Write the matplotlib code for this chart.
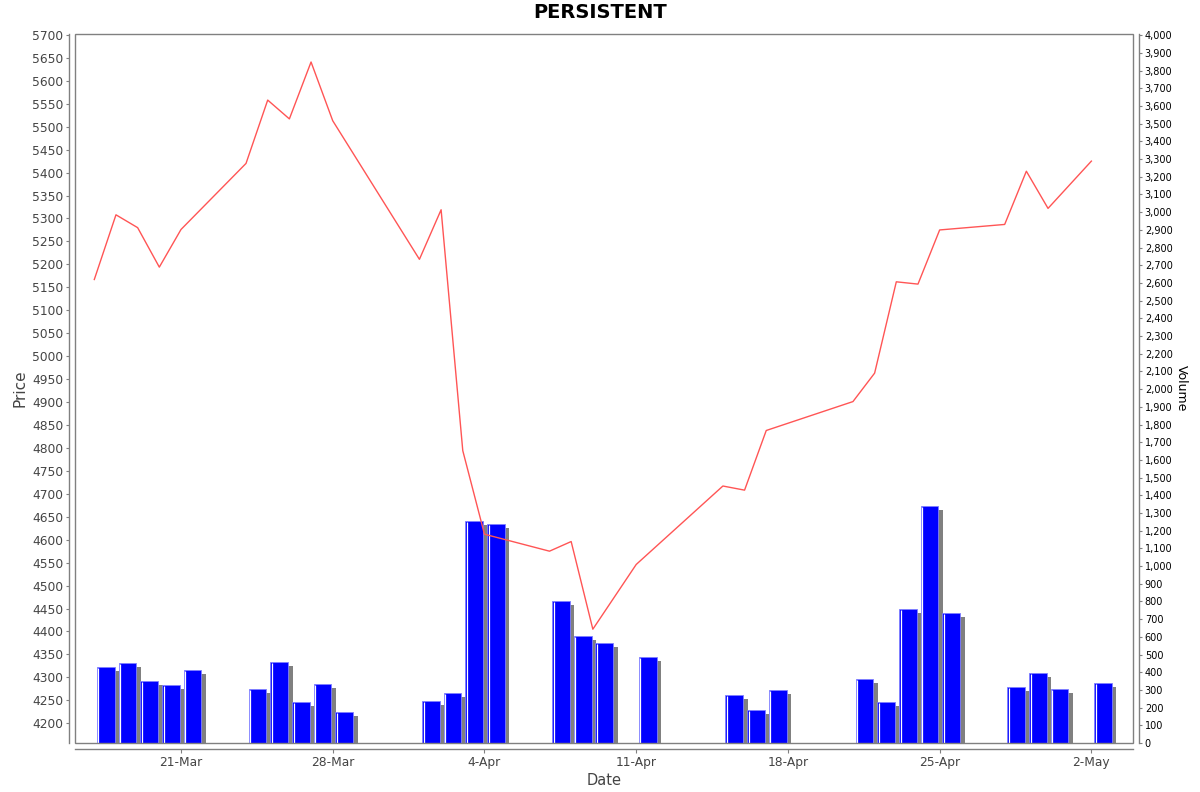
import matplotlib
matplotlib.use("Agg")
from matplotlib import pyplot as plt
import matplotlib.dates as mdates
from matplotlib.patches import Rectangle
from matplotlib.ticker import MultipleLocator, StrMethodFormatter, FuncFormatter
import numpy as np
import pandas as pd

# trading days (Mar-May 2025)
dates = ['2025-03-17', '2025-03-18', '2025-03-19', '2025-03-20', '2025-03-21',
         '2025-03-24', '2025-03-25', '2025-03-26', '2025-03-27', '2025-03-28',
         '2025-04-01', '2025-04-02', '2025-04-03', '2025-04-04',
         '2025-04-07', '2025-04-08', '2025-04-09', '2025-04-11',
         '2025-04-15', '2025-04-16', '2025-04-17',
         '2025-04-21', '2025-04-22', '2025-04-23', '2025-04-24', '2025-04-25',
         '2025-04-28', '2025-04-29', '2025-04-30', '2025-05-02']

price = [5167, 5308, 5280, 5194, 5276,
         5420, 5558, 5517, 5641, 5513,
         5211, 5319, 4794, 4612,
         4575, 4596, 4405, 4546,
         4717, 4708, 4838,
         4901, 4963, 5162, 5157, 5275,
         5287, 5403, 5322, 5425]

volume = [430, 453, 353, 325, 412,
          308, 457, 231, 333, 178,
          240, 280, 1252, 1239,
          801, 605, 565, 486,
          270, 184, 299,
          364, 230, 757, 1340, 732,
          319, 394, 304, 338]

title = "PERSISTENT"

x = mdates.date2num(pd.to_datetime(dates).to_pydatetime())
vol = np.array(volume, dtype=float)

fig = plt.figure(figsize=(12, 7.92), dpi=100)
axe = fig.add_axes([75/1200, 1-743/792, (1133-75)/1200, (743-34)/792])
axv = axe.twinx()
axe.set_zorder(axv.get_zorder() + 1)
axe.patch.set_visible(False)

gray = '#808080'
dark = '#444444'
px_day = 1058 / (x[-1] - x[0] + 0.89 + 1.92)
px_vol = 709 / 4007.0

# volume bars with drop shadow
off = 0.12
w = 0.82
sx = 4.5 / px_day
sy = 4 / px_vol
axv.bar(x + off + sx, np.clip(vol - sy, 0, None), width=w, align='edge',
        color=gray, linewidth=0, zorder=1)
axv.bar(x + off, vol, width=w, align='edge', color='#0000ff',
        edgecolor='#8080ff', linewidth=0.6, zorder=2)
axv.vlines(x + off + 1.6 / px_day, 0, vol - 1 / px_vol, color='white',
           linewidth=0.9, zorder=3)

# price line
axe.plot(x, price, color='#ff5555', linewidth=1.0, zorder=5)

axe.set_xlim(x[0] - 0.89, x[-1] + 1.92)
axe.set_ylim(4157, 5702)
axv.set_ylim(0, 4007)

axe.yaxis.set_major_locator(MultipleLocator(50))
axv.yaxis.set_major_locator(MultipleLocator(100))
axv.yaxis.set_major_formatter(StrMethodFormatter('{x:,.0f}'))
axe.xaxis.set_major_locator(mdates.WeekdayLocator(byweekday=mdates.FR))
axe.xaxis.set_major_formatter(
    FuncFormatter(lambda v, p: f"{mdates.num2date(v).day}-{mdates.num2date(v):%b}"))

for s in ['top', 'right']:
    axe.spines[s].set_visible(False)
for s in ['top', 'left', 'bottom']:
    axv.spines[s].set_visible(False)
for s, a in [('left', axe), ('bottom', axe), ('right', axv)]:
    a.spines[s].set_position(('outward', 4))
    a.spines[s].set_color(gray)
    a.spines[s].set_linewidth(1.0)

axe.add_patch(Rectangle((0, 0), 1, 1, transform=axe.transAxes, fill=False,
                        edgecolor=gray, linewidth=1.0, zorder=10, clip_on=False))

axe.tick_params(axis='y', length=2, width=0.8, color=gray, pad=2.5,
                labelsize=8.8, labelcolor=dark)
axe.tick_params(axis='x', length=3, width=0.8, color=gray, pad=2.5,
                labelsize=8.8, labelcolor=dark)
axv.tick_params(axis='y', length=2, width=0.8, color=gray, pad=2.5,
                labelsize=7, labelcolor='black')

axe.set_ylabel("Price", fontsize=11, color=dark, labelpad=3)
axe.set_xlabel("Date", fontsize=10.5, color=dark, labelpad=3)
axv.set_ylabel("Volume", fontsize=9, color='black', rotation=270, labelpad=11)

fig.suptitle(title, fontsize=14, fontweight='bold', y=1-13/792, va='center')

fig.savefig("out.png", dpi=100)
